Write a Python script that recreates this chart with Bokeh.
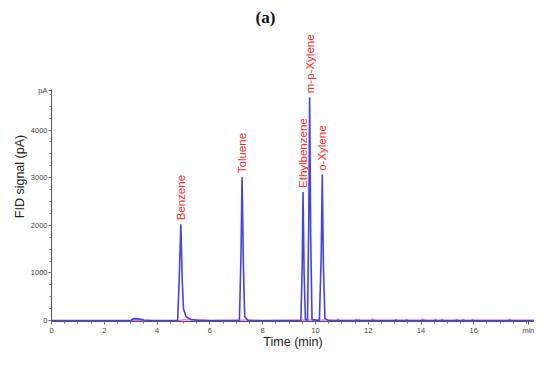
import numpy as np
from bokeh.plotting import figure
from bokeh.models import FixedTicker, Title, ColumnDataSource, Range1d, LabelSet
from bokeh.core.properties import value
from bokeh.embed import file_html
from bokeh.resources import INLINE

# ---- data ----
peak_names = ["Benzene", "Toluene", "Ethylbenzene", "m-p-Xylene", "o-Xylene"]
peak_times = [4.90, 7.22, 9.53, 9.78, 10.26]
peak_heights = [2020, 3010, 2700, 4690, 3060]

blue_time = [0, 3.0, 3.1, 3.3, 3.5, 3.8, 4.78, 4.84, 4.90, 4.95, 5.0, 5.1, 5.3, 5.6,
             7.12, 7.18, 7.22, 7.27, 7.32, 7.45,
             9.45, 9.50, 9.53, 9.57, 9.62, 9.70, 9.75, 9.78, 9.82, 9.87,
             10.15, 10.22, 10.26, 10.30, 10.36, 10.5, 18.3]
blue_signal = [0, 0, 40, 35, 12, 0, 0, 900, 2020, 900, 250, 80, 20, 0,
               0, 1400, 3010, 1200, 80, 0,
               0, 1200, 2700, 1000, 30, 0, 2200, 4690, 1800, 20,
               0, 1400, 3060, 1200, 40, 0, 0]

pink_time = [0, 4.8, 5.0, 5.8, 6.0, 7.3, 7.5, 8.0, 9.6, 10.6,
             10.8, 10.85, 10.9, 11.5, 11.55, 11.6, 11.65, 11.7, 12.1, 12.15, 12.25,
             13.0, 13.05, 13.1, 13.4, 13.45, 13.5, 14.0, 14.05, 14.15, 14.5, 14.55, 14.6,
             14.75, 14.8, 14.85, 15.3, 15.35, 15.4, 15.55, 15.6, 15.65, 15.9, 15.95, 16.0,
             17.3, 17.35, 17.4, 18.3]
pink_signal = [0, 0, 15, 15, 0, 10, 10, 0, 10, 10,
               5, 35, 5, 5, 30, 5, 30, 5, 5, 35, 5,
               5, 30, 5, 5, 30, 5, 5, 35, 5, 5, 30, 5,
               5, 30, 5, 5, 30, 5, 5, 35, 5, 5, 30, 5,
               5, 30, 5, 5]

x_major = [0, 2, 4, 6, 8, 10, 12, 14, 16, 18.08]
x_labels = ["0", "2", "4", "6", "8", "10", "12", "14", "16", "min"]
y_major = [0, 1000, 2000, 3000, 4000, 4830]
y_labels = ["0", "1000", "2000", "3000", "4000", "pA"]

# ---- figure ----
p = figure(width=534, height=351, output_backend="svg", toolbar_location=None,
           x_range=Range1d(0, 18.3), y_range=Range1d(-20, 6070),
           min_border_left=51, min_border_right=0, min_border_top=0, min_border_bottom=0)
p.title = Title(text="(a)", align="left", offset=204, text_font="Liberation Serif",
                text_font_style="bold", text_font_size="17px", text_color="#111111")
p.outline_line_color = None
p.xgrid.visible = False
p.ygrid.visible = False

p.line(pink_time, pink_signal, line_color="#ff55d0", line_width=1.2, line_alpha=0.9)
p.line(blue_time, blue_signal, line_color="#4040ff", line_width=1.6)

src = ColumnDataSource(dict(x=peak_times, y=peak_heights, t=peak_names))
labels = LabelSet(x="x", y="y", text="t", source=src, angle=np.pi / 2,
                  text_align="left", text_baseline="middle", y_offset=4,
                  text_color="#ff2a2a", text_font=value("Liberation Sans"),
                  text_font_size="11.5px")
p.add_layout(labels)

for ax, ticks, labs, minor, bounds in (
        (p.xaxis[0], x_major, x_labels, list(np.arange(0, 18.01, 0.5)), (0, 18.3)),
        (p.yaxis[0], y_major, y_labels, list(np.arange(0, 4850, 250)), (-20, 4860))):
    ax.ticker = FixedTicker(ticks=ticks, minor_ticks=minor)
    ax.major_label_overrides = {t: l for t, l in zip(ticks, labs)}
    ax.bounds = bounds
    ax.axis_line_color = "#555555"
    ax.major_tick_line_color = "#555555"
    ax.minor_tick_line_color = "#777777"
    ax.major_tick_out = 3
    ax.major_tick_in = 0
    ax.minor_tick_out = 2
    ax.minor_tick_in = 0
    ax.major_label_text_font = "Liberation Sans"
    ax.major_label_text_font_size = "7.5px"
    ax.major_label_text_color = "#444444"
    ax.major_label_standoff = 1
    ax.axis_label_text_font = "Liberation Sans"
    ax.axis_label_text_font_size = "12.5px"
    ax.axis_label_text_font_style = "normal"
    ax.axis_label_text_color = "#222222"

p.xaxis.axis_label_standoff = -3
p.yaxis.axis_label_standoff = 1
p.xaxis.axis_label = "Time (min)"
p.yaxis.axis_label = "FID signal (pA)"

open("out.html", "w").write(file_html(p, INLINE))
